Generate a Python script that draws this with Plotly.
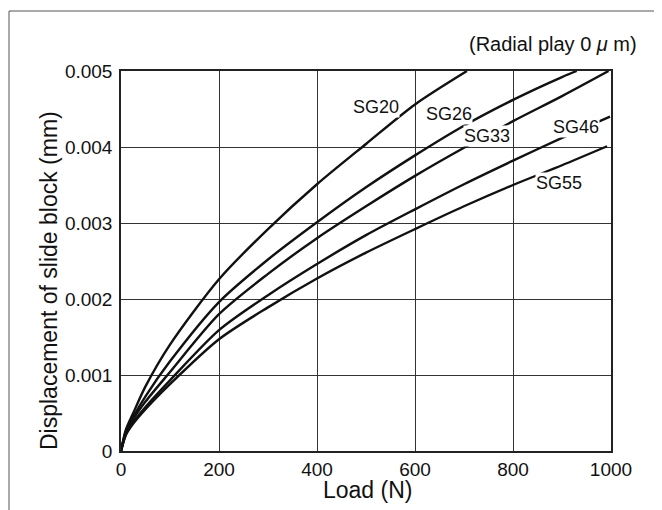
import plotly.graph_objects as go

# ---- data ----
load_sg20 = [0, 10, 25, 50, 100, 200, 300, 400, 500, 600, 706]
disp_sg20 = [0, 0.00028, 0.00050, 0.00085, 0.00140, 0.00226, 0.00292, 0.00351, 0.00404, 0.00456, 0.00500]

load_sg26 = [0, 10, 25, 50, 100, 200, 300, 400, 500, 600, 700, 800, 900, 930]
disp_sg26 = [0, 0.00026, 0.00045, 0.00072, 0.00118, 0.00196, 0.00252, 0.00301, 0.00347, 0.00389, 0.00428, 0.00462, 0.00492, 0.00500]

load_sg33 = [0, 10, 25, 50, 100, 200, 300, 400, 500, 600, 700, 800, 900, 995]
disp_sg33 = [0, 0.00024, 0.00042, 0.00065, 0.00104, 0.00180, 0.00233, 0.00280, 0.00322, 0.00362, 0.00399, 0.00434, 0.00467, 0.00500]

load_sg46 = [0, 10, 25, 50, 100, 200, 300, 400, 500, 600, 700, 800, 900, 998]
disp_sg46 = [0, 0.00022, 0.00038, 0.00058, 0.00093, 0.00159, 0.00205, 0.00246, 0.00284, 0.00318, 0.00351, 0.00382, 0.00412, 0.00440]

load_sg55 = [0, 10, 25, 50, 100, 200, 300, 400, 500, 600, 700, 800, 900, 992]
disp_sg55 = [0, 0.00021, 0.00036, 0.00055, 0.00088, 0.00147, 0.00189, 0.00227, 0.00261, 0.00292, 0.00322, 0.00350, 0.00376, 0.00401]

series_names = ["SG20", "SG26", "SG33", "SG46", "SG55"]
label_x = [520, 670, 746, 929, 893]
label_y = [0.00453, 0.00444, 0.004145, 0.00426, 0.00353]

x_ticks = [0, 200, 400, 600, 800, 1000]
y_ticks = [0, 0.001, 0.002, 0.003, 0.004, 0.005]
y_tick_text = ["0", "0.001", "0.002", "0.003", "0.004", "0.005"]

x_title = "Load (N)"
y_title = "Displacement of slide block (mm)"
note = "(Radial play 0 <i>μ</i> m)"

# ---- layout geometry (page has an 8px body margin) ----
OFF = 8
W, H = 654, 502
L, T = 113, 63
PW, PH = 490, 380
R, B = W - L - PW, H - T - PH


def px(page_x):
    return (page_x - OFF - L) / PW


def py(page_y):
    return (H - B - (page_y - OFF)) / PH


FONT = "Liberation Sans, Arial, Helvetica, sans-serif"
INK = "#111111"

fig = go.Figure()
all_series = [
    (load_sg20, disp_sg20),
    (load_sg26, disp_sg26),
    (load_sg33, disp_sg33),
    (load_sg46, disp_sg46),
    (load_sg55, disp_sg55),
]
for name, (xs, ys) in zip(series_names, all_series):
    fig.add_trace(go.Scatter(
        x=xs, y=ys, mode="lines", name=name,
        line=dict(color=INK, width=2.4, shape="spline", smoothing=0.8),
        hoverinfo="x+y+name", showlegend=False,
    ))

annotations = []
for name, lx, ly in zip(series_names, label_x, label_y):
    annotations.append(dict(
        x=lx, y=ly, xref="x", yref="y", text=name, showarrow=False,
        font=dict(family=FONT, size=18, color=INK),
        bgcolor="white", borderpad=0,
    ))
annotations.append(dict(
    x=px(639), y=py(44), xref="paper", yref="paper", text=note,
    showarrow=False, xanchor="right", yanchor="middle",
    font=dict(family=FONT, size=20, color=INK),
))
annotations.append(dict(
    x=px(367), y=py(490), xref="paper", yref="paper", text=x_title,
    showarrow=False, xanchor="center", yanchor="middle",
    font=dict(family=FONT, size=23, color=INK),
))
annotations.append(dict(
    x=px(49), y=py(281), xref="paper", yref="paper", text=y_title,
    showarrow=False, xanchor="center", yanchor="middle", textangle=-90,
    font=dict(family=FONT, size=23, color=INK),
))

frame = dict(color="#555555", width=1)
shapes = [
    dict(type="line", xref="paper", yref="paper", x0=px(9), x1=px(9), y0=py(11), y1=py(520), line=frame),
    dict(type="line", xref="paper", yref="paper", x0=px(9), x1=px(661), y0=py(11), y1=py(11), line=frame),
    dict(type="line", xref="paper", yref="paper", x0=px(661), x1=px(661), y0=py(11), y1=py(520), line=frame),
]

fig.update_layout(
    width=W, height=H,
    margin=dict(l=L, r=R, t=T, b=B, pad=0),
    paper_bgcolor="white", plot_bgcolor="white",
    annotations=annotations, shapes=shapes,
    showlegend=False,
)
fig.update_xaxes(
    range=[0, 1000], tickvals=x_ticks, ticks="", showline=True, mirror=True,
    linecolor="#222222", linewidth=1.5, showgrid=True, gridcolor="#333333", gridwidth=1,
    zeroline=False, tickfont=dict(family=FONT, size=19, color=INK),
)
fig.update_yaxes(
    range=[0, 0.005], tickvals=y_ticks, ticktext=y_tick_text, ticks="", showline=True, mirror=True,
    linecolor="#222222", linewidth=1.5, showgrid=True, gridcolor="#333333", gridwidth=1,
    zeroline=False, tickfont=dict(family=FONT, size=19, color=INK), ticklabelstandoff=3,
)

fig.write_html("out.html")
